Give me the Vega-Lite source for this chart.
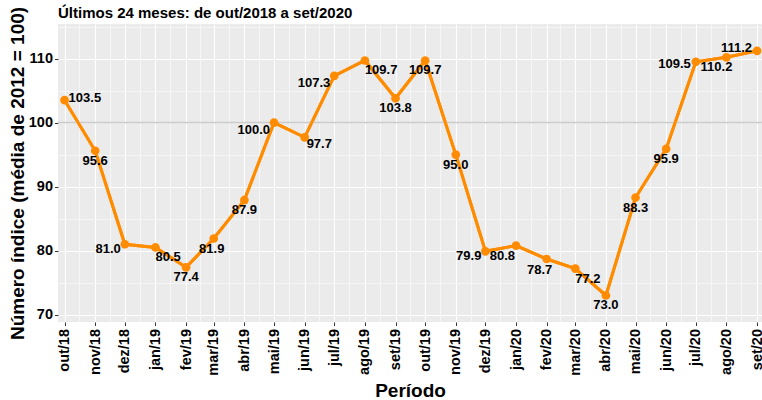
{
  "$schema": "https://vega.github.io/schema/vega-lite/v6.json",
  "width": 704,
  "height": 298,
  "autosize": {"type": "none"},
  "padding": {"left": 58, "top": 24, "right": 0, "bottom": 78},
  "background": "white",
  "title": {"text": "Últimos 24 meses: de out/2018 a set/2020", "anchor": "start", "frame": "group", "font": "Liberation Sans", "fontSize": 15, "fontWeight": "bold", "color": "black", "offset": 3, "dy": 18},
  "config": {"view": {"fill": "#EBEBEB", "stroke": null}, "font": "Liberation Sans"},
  "data": {"values": [
    {"periodo": "2018-10-01", "mes": "out/18", "valor": 103.5},
    {"periodo": "2018-11-01", "mes": "nov/18", "valor": 95.6},
    {"periodo": "2018-12-01", "mes": "dez/18", "valor": 81.0},
    {"periodo": "2019-01-01", "mes": "jan/19", "valor": 80.5},
    {"periodo": "2019-02-01", "mes": "fev/19", "valor": 77.4},
    {"periodo": "2019-03-01", "mes": "mar/19", "valor": 81.9},
    {"periodo": "2019-04-01", "mes": "abr/19", "valor": 87.9},
    {"periodo": "2019-05-01", "mes": "mai/19", "valor": 100.0},
    {"periodo": "2019-06-01", "mes": "jun/19", "valor": 97.7},
    {"periodo": "2019-07-01", "mes": "jul/19", "valor": 107.3},
    {"periodo": "2019-08-01", "mes": "ago/19", "valor": 109.7},
    {"periodo": "2019-09-01", "mes": "set/19", "valor": 103.8},
    {"periodo": "2019-10-01", "mes": "out/19", "valor": 109.7},
    {"periodo": "2019-11-01", "mes": "nov/19", "valor": 95.0},
    {"periodo": "2019-12-01", "mes": "dez/19", "valor": 79.9},
    {"periodo": "2020-01-01", "mes": "jan/20", "valor": 80.8},
    {"periodo": "2020-02-01", "mes": "fev/20", "valor": 78.7},
    {"periodo": "2020-03-01", "mes": "mar/20", "valor": 77.2},
    {"periodo": "2020-04-01", "mes": "abr/20", "valor": 73.0},
    {"periodo": "2020-05-01", "mes": "mai/20", "valor": 88.3},
    {"periodo": "2020-06-01", "mes": "jun/20", "valor": 95.9},
    {"periodo": "2020-07-01", "mes": "jul/20", "valor": 109.5},
    {"periodo": "2020-08-01", "mes": "ago/20", "valor": 110.2},
    {"periodo": "2020-09-01", "mes": "set/20", "valor": 111.2}
  ]},
  "layer": [
    {
      "mark": {"type": "line", "opacity": 0},
      "encoding": {
        "x": {"field": "periodo", "type": "temporal",
          "scale": {"type": "utc", "domain": [{"year": 2018, "month": 9, "date": 24, "hours": 8, "utc": true}, {"year": 2020, "month": 9, "date": 6, "utc": true}]},
          "axis": {"orient": "bottom", "labels": false, "ticks": false, "domain": false, "title": null, "grid": true, "gridColor": "white", "gridWidth": 0.55,
            "values": [
              {"year": 2018, "month": 10, "date": 16, "utc": true},
              {"year": 2018, "month": 11, "date": 16, "utc": true},
              {"year": 2018, "month": 12, "date": 16, "utc": true},
              {"year": 2019, "month": 1, "date": 16, "utc": true},
              {"year": 2019, "month": 2, "date": 15, "utc": true},
              {"year": 2019, "month": 3, "date": 16, "utc": true},
              {"year": 2019, "month": 4, "date": 16, "utc": true},
              {"year": 2019, "month": 5, "date": 16, "utc": true},
              {"year": 2019, "month": 6, "date": 16, "utc": true},
              {"year": 2019, "month": 7, "date": 16, "utc": true},
              {"year": 2019, "month": 8, "date": 16, "utc": true},
              {"year": 2019, "month": 9, "date": 16, "utc": true},
              {"year": 2019, "month": 10, "date": 16, "utc": true},
              {"year": 2019, "month": 11, "date": 16, "utc": true},
              {"year": 2019, "month": 12, "date": 16, "utc": true},
              {"year": 2020, "month": 1, "date": 16, "utc": true},
              {"year": 2020, "month": 2, "date": 15, "utc": true},
              {"year": 2020, "month": 3, "date": 16, "utc": true},
              {"year": 2020, "month": 4, "date": 16, "utc": true},
              {"year": 2020, "month": 5, "date": 16, "utc": true},
              {"year": 2020, "month": 6, "date": 16, "utc": true},
              {"year": 2020, "month": 7, "date": 16, "utc": true},
              {"year": 2020, "month": 8, "date": 16, "utc": true}
            ]}},
        "y": {"field": "valor", "type": "quantitative",
          "scale": {"domain": [68.86, 115.4], "nice": false, "zero": false},
          "axis": {"orient": "right", "labels": false, "ticks": false, "domain": false, "title": null, "grid": true, "gridColor": "white", "gridWidth": 0.55, "values": [75, 85, 95, 105, 115]}}
      }
    },
    {
      "mark": {"type": "line", "color": "#FF8C00", "strokeWidth": 3},
      "encoding": {
        "x": {"field": "periodo", "type": "temporal",
          "scale": {"type": "utc", "domain": [{"year": 2018, "month": 9, "date": 24, "hours": 8, "utc": true}, {"year": 2020, "month": 9, "date": 6, "utc": true}]},
          "axis": {"orient": "bottom", "grid": true, "gridColor": "white", "gridWidth": 1.1, "domain": false,
            "tickCount": {"interval": "month", "step": 1}, "tickColor": "#333333", "tickSize": 3.5, "tickWidth": 1,
            "labelExpr": "['jan','fev','mar','abr','mai','jun','jul','ago','set','out','nov','dez'][utcmonth(datum.value)] + '/' + utcFormat(datum.value, '%y')",
            "labelAngle": 270, "labelFont": "Liberation Sans", "labelFontSize": 14.5, "labelFontWeight": "bold", "labelColor": "black", "labelPadding": 3,
            "labelFlush": false, "labelOverlap": false, "labelBound": false,
            "title": "Período", "titleFont": "Liberation Sans", "titleFontSize": 19, "titleFontWeight": "bold", "titleColor": "black", "titlePadding": 6}},
        "y": {"field": "valor", "type": "quantitative",
          "scale": {"domain": [68.86, 115.4], "nice": false, "zero": false},
          "axis": {"orient": "left", "values": [70, 80, 90, 100, 110], "grid": true, "gridColor": "white", "gridWidth": 1.1, "domain": false,
            "tickColor": "#333333", "tickSize": 3.5, "tickWidth": 1,
            "labelFont": "Liberation Sans", "labelFontSize": 14.5, "labelFontWeight": "bold", "labelColor": "black", "labelPadding": 2,
            "title": "Número índice (média de 2012 = 100)", "titleFont": "Liberation Sans", "titleFontSize": 19, "titleFontWeight": "bold", "titleColor": "black", "titlePadding": 1}}
      }
    },
    {
      "data": {"values": [{"referencia": 100}]},
      "mark": {"type": "rule", "color": "#CCCCCC", "strokeWidth": 1.6},
      "encoding": {
        "y": {"field": "referencia", "type": "quantitative", "scale": {"domain": [68.86, 115.4], "nice": false, "zero": false}, "axis": null}
      }
    },
    {
      "encoding": {
        "x": {"field": "periodo", "type": "temporal",
          "scale": {"type": "utc", "domain": [{"year": 2018, "month": 9, "date": 24, "hours": 8, "utc": true}, {"year": 2020, "month": 9, "date": 6, "utc": true}]}, "axis": null},
        "y": {"field": "valor", "type": "quantitative", "scale": {"domain": [68.86, 115.4], "nice": false, "zero": false}, "axis": null},
        "text": {"field": "valor", "type": "quantitative", "format": ".1f"}
      },
      "layer": [
        {"mark": {"type": "line", "color": "#FF8C00", "strokeWidth": 3}, "encoding": {"text": null}},
        {"mark": {"type": "circle", "color": "#FF8C00", "opacity": 1, "size": 76}, "encoding": {"text": null}},
        {"transform": [{"filter": {"field": "mes", "oneOf": ["nov/18", "fev/19", "abr/19", "set/19", "out/19", "nov/19", "abr/20", "mai/20", "jun/20"]}}],
          "mark": {"type": "text", "font": "Liberation Sans", "fontSize": 13, "fontWeight": "bold", "color": "black", "align": "center", "baseline": "middle", "dx": 0, "dy": 10}},
        {"transform": [{"filter": {"field": "mes", "oneOf": ["mar/19"]}}],
          "mark": {"type": "text", "font": "Liberation Sans", "fontSize": 13, "fontWeight": "bold", "color": "black", "align": "center", "baseline": "middle", "dx": -2, "dy": 10}},
        {"transform": [{"filter": {"field": "mes", "oneOf": ["dez/18", "dez/19"]}}],
          "mark": {"type": "text", "font": "Liberation Sans", "fontSize": 13, "fontWeight": "bold", "color": "black", "align": "right", "baseline": "middle", "dx": -4, "dy": 4.5}},
        {"transform": [{"filter": {"field": "mes", "oneOf": ["mai/19", "jul/19"]}}],
          "mark": {"type": "text", "font": "Liberation Sans", "fontSize": 13, "fontWeight": "bold", "color": "black", "align": "right", "baseline": "middle", "dx": -4, "dy": 7}},
        {"transform": [{"filter": {"field": "mes", "oneOf": ["jan/19", "ago/19", "mar/20"]}}],
          "mark": {"type": "text", "font": "Liberation Sans", "fontSize": 13, "fontWeight": "bold", "color": "black", "align": "left", "baseline": "middle", "dx": 0, "dy": 10}},
        {"transform": [{"filter": {"field": "mes", "oneOf": ["jun/19"]}}],
          "mark": {"type": "text", "font": "Liberation Sans", "fontSize": 13, "fontWeight": "bold", "color": "black", "align": "left", "baseline": "middle", "dx": 2, "dy": 7}},
        {"transform": [{"filter": {"field": "mes", "oneOf": ["out/18"]}}],
          "mark": {"type": "text", "font": "Liberation Sans", "fontSize": 13, "fontWeight": "bold", "color": "black", "align": "left", "baseline": "middle", "dx": 4, "dy": -2}},
        {"transform": [{"filter": {"field": "mes", "oneOf": ["jan/20"]}}],
          "mark": {"type": "text", "font": "Liberation Sans", "fontSize": 13, "fontWeight": "bold", "color": "black", "align": "right", "baseline": "middle", "dx": -1, "dy": 10}},
        {"transform": [{"filter": {"field": "mes", "oneOf": ["ago/20"]}}],
          "mark": {"type": "text", "font": "Liberation Sans", "fontSize": 13, "fontWeight": "bold", "color": "black", "align": "right", "baseline": "middle", "dx": 6, "dy": 10}},
        {"transform": [{"filter": {"field": "mes", "oneOf": ["fev/20"]}}],
          "mark": {"type": "text", "font": "Liberation Sans", "fontSize": 13, "fontWeight": "bold", "color": "black", "align": "center", "baseline": "middle", "dx": -7, "dy": 11}},
        {"transform": [{"filter": {"field": "mes", "oneOf": ["jul/20"]}}],
          "mark": {"type": "text", "font": "Liberation Sans", "fontSize": 13, "fontWeight": "bold", "color": "black", "align": "right", "baseline": "middle", "dx": -5, "dy": 2}},
        {"transform": [{"filter": {"field": "mes", "oneOf": ["set/20"]}}],
          "mark": {"type": "text", "font": "Liberation Sans", "fontSize": 13, "fontWeight": "bold", "color": "black", "align": "right", "baseline": "middle", "dx": -5, "dy": -3}}
      ]
    }
  ],
  "resolve": {"axis": {"x": "independent", "y": "independent"}}
}
